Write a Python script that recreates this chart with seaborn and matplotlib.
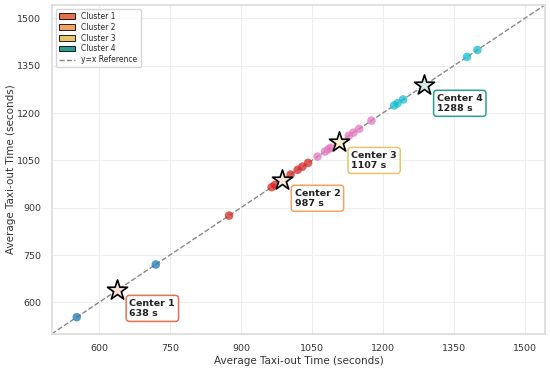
import numpy as np
import pandas as pd
import matplotlib
matplotlib.use("Agg")
import matplotlib.pyplot as plt
import seaborn as sns
from matplotlib.patches import Patch
from matplotlib.lines import Line2D

# taxi-out times per airport (actual ~ predicted, both on y=x)
c1_vals = [553, 720]
c2_vals = [875, 965, 972, 1005, 1020, 1030, 1042]
c3_vals = [1062, 1078, 1085, 1090, 1128, 1138, 1150, 1176]
c4_vals = [1224, 1231, 1243, 1378, 1400]
centers = [638, 987, 1107, 1288]
cluster_names = ["Cluster 1", "Cluster 2", "Cluster 3", "Cluster 4"]

point_colors = ["#1f77b4", "#d62728", "#e377c2", "#17becf"]
legend_colors = ["#e76f51", "#f4a261", "#e9c46a", "#2a9d8f"]
star_faces = ["#fde3dc", "#fdebd9", "#fbf0cf", "#d3ece8"]

rows = []
for name, vals in zip(cluster_names, [c1_vals, c2_vals, c3_vals, c4_vals]):
    for v in vals:
        rows.append({"x": v, "y": v, "cluster": name})
df = pd.DataFrame(rows)

sns.set_theme(style="whitegrid")
plt.rcParams["font.family"] = ["DejaVu Sans"]

fig, ax = plt.subplots(figsize=(5.5, 3.71), dpi=100)
fig.subplots_adjust(left=0.094, right=0.991, bottom=0.1, top=0.987)

lo, hi = 500, 1543
ax.plot([lo, hi], [lo, hi], ls="--", color="#888888", lw=1, zorder=1)

sns.scatterplot(data=df, x="x", y="y", hue="cluster", palette=point_colors,
                s=38, alpha=0.75, edgecolor="none", legend=False, ax=ax, zorder=2)

for i, (c, face, edge) in enumerate(zip(centers, star_faces, legend_colors)):
    ax.scatter([c], [c], marker="*", s=230, facecolor=face, edgecolor="black",
               linewidth=1.2, zorder=4)
    ax.annotate(f"Center {i + 1}\n{c} s", xy=(c, c),
                xytext=(9, -6), textcoords="offset points", ha="left", va="top",
                fontsize=6.8, fontweight="bold", color="#222222",
                bbox=dict(boxstyle="round,pad=0.35", fc="white", ec=edge, lw=1.1),
                zorder=5)

ax.set_xlim(lo, hi)
ax.set_ylim(lo, hi)
ticks = [600, 750, 900, 1050, 1200, 1350, 1500]
ax.set_xticks(ticks)
ax.set_yticks(ticks)
ax.tick_params(labelsize=6.8, colors="#333333", pad=1.5)
ax.set_xlabel("Average Taxi-out Time (seconds)", fontsize=7.5, color="#333333",
              labelpad=2)
ax.set_ylabel("Average Taxi-out Time (seconds)", fontsize=7.5, color="#333333",
              labelpad=0.5)
ax.grid(color="#eeeeee", lw=0.8)
for sp in ax.spines.values():
    sp.set_color("#dddddd")

handles = [Patch(facecolor=col, edgecolor="black", lw=0.6, label=n)
           for col, n in zip(legend_colors, cluster_names)]
handles.append(Line2D([0], [0], ls="--", color="#888888", lw=1, label="y=x Reference"))
ax.legend(handles=handles, loc="upper left", fontsize=5.5, frameon=True,
          handlelength=2.2, borderpad=0.4, labelspacing=0.25)

plt.savefig("out.png", dpi=100)
